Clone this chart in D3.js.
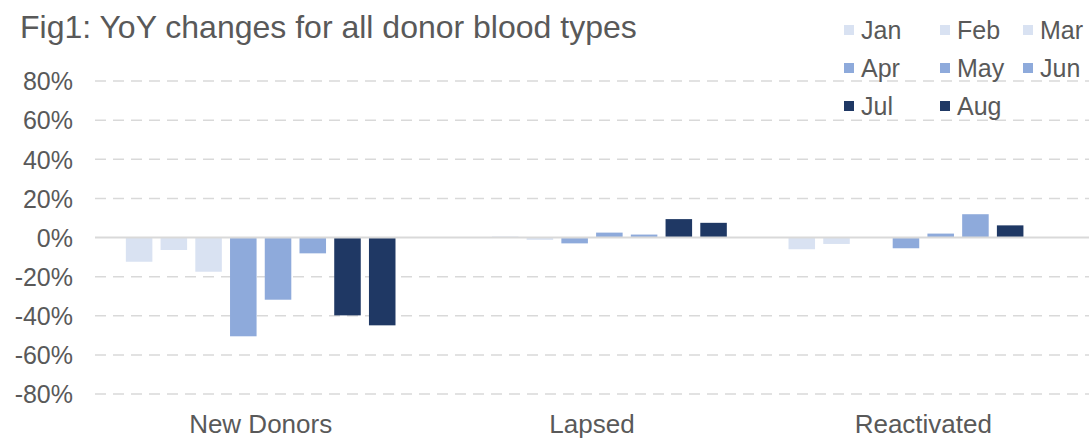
<!DOCTYPE html>
<html>
<head>
<meta charset="utf-8">
<script src="https://cdn.jsdelivr.net/npm/d3@7"></script>
<style>
  body { margin: 0; background: #fff; }
  svg text { font-family: "Liberation Sans", Arial, sans-serif; fill: #595959; }
</style>
</head>
<body>
<svg id="chart" width="1089" height="438"></svg>
<script>
// categories and months
const categories = ['New Donors', 'Lapsed', 'Reactivated']
const months = ['Jan', 'Feb', 'Mar', 'Apr', 'May', 'Jun', 'Jul', 'Aug']

// YoY % change, one array per category (Jan..Aug)
const newDonors = [-12.4, -6.4, -17.5, -50.5, -31.8, -8.1, -39.8, -44.9]
const lapsed = [0, 0.5, -1.2, -3, 2.5, 1.5, 9.4, 7.5]
const reactivated = [-6, -3.3, 0, -5.5, 2, 11.9, 6.2, 0]
const seriesValues = [newDonors, lapsed, reactivated]

const yTicks = [-80, -60, -40, -20, 0, 20, 40, 60, 80]

const monthColor = d3.scaleOrdinal()
    .domain(months)
    .range(['#d9e2f2', '#d9e2f2', '#d9e2f2', '#8eaadb', '#8eaadb', '#8eaadb', '#1f3864', '#1f3864'])

const svg = d3.select('#chart')

const x0 = d3.scaleBand()
    .domain(categories)
    .range([95, 1089])

const x1 = d3.scaleBand()
    .domain(months)
    .range([0, x0.bandwidth()])
    .paddingInner(0.236)
    .paddingOuter(0.888)

const y = d3.scaleLinear()
    .domain([-80, 80])
    .range([394, 81])

// gridlines
svg.append('g')
    .selectAll('line')
    .data(yTicks.filter(d => d !== 0))
    .join('line')
    .attr('x1', 95)
    .attr('x2', 1089)
    .attr('y1', d => y(d))
    .attr('y2', d => y(d))
    .attr('stroke', '#d9d9d9')
    .attr('stroke-width', 1.5)
    .attr('stroke-dasharray', '11,7')

// y axis labels
const yAxis = d3.axisLeft(y)
    .tickValues(yTicks)
    .tickFormat(d => d + '%')
    .tickSize(0)
    .tickPadding(0)

svg.append('g')
    .attr('transform', 'translate(73,0)')
    .call(yAxis)
    .call(g => g.select('.domain').remove())
    .selectAll('text')
    .attr('font-size', 25)
    .attr('dy', '0.35em')

// bars
const groups = svg.append('g')
    .selectAll('g')
    .data(categories)
    .join('g')
    .attr('transform', d => 'translate(' + x0(d) + ',0)')

groups.selectAll('rect')
    .data((c, i) => months.map((m, j) => ({ month: m, value: seriesValues[i][j] })))
    .join('rect')
    .attr('x', d => x1(d.month))
    .attr('width', x1.bandwidth())
    .attr('y', d => y(Math.max(0, d.value)))
    .attr('height', d => Math.abs(y(d.value) - y(0)))
    .attr('fill', d => monthColor(d.month))

// zero line
svg.append('line')
    .attr('x1', 95)
    .attr('x2', 1089)
    .attr('y1', y(0))
    .attr('y2', y(0))
    .attr('stroke', '#d9d9d9')
    .attr('stroke-width', 2)

// category labels
const xAxis = d3.axisBottom(x0).tickSize(0).tickPadding(0)
svg.append('g')
    .attr('transform', 'translate(0,433)')
    .call(xAxis)
    .call(g => g.select('.domain').remove())
    .selectAll('text')
    .attr('font-size', 26)
    .attr('dy', 0)

// title
svg.append('text')
    .attr('x', 20)
    .attr('y', 38)
    .attr('font-size', 32)
    .text('Fig1: YoY changes for all donor blood types')

// legend, 3 columns
const legendCols = [844, 940, 1023]
const legend = svg.append('g')
    .selectAll('g')
    .data(months)
    .join('g')
    .attr('transform', (d, i) => 'translate(' + legendCols[i % 3] + ',' + (30 + Math.floor(i / 3) * 38) + ')')

legend.append('rect')
    .attr('x', 0)
    .attr('y', -5)
    .attr('width', 10)
    .attr('height', 10)
    .attr('fill', d => monthColor(d))

legend.append('text')
    .attr('x', 17)
    .attr('dy', '0.35em')
    .attr('font-size', 25)
    .text(d => d)
</script>
</body>
</html>
